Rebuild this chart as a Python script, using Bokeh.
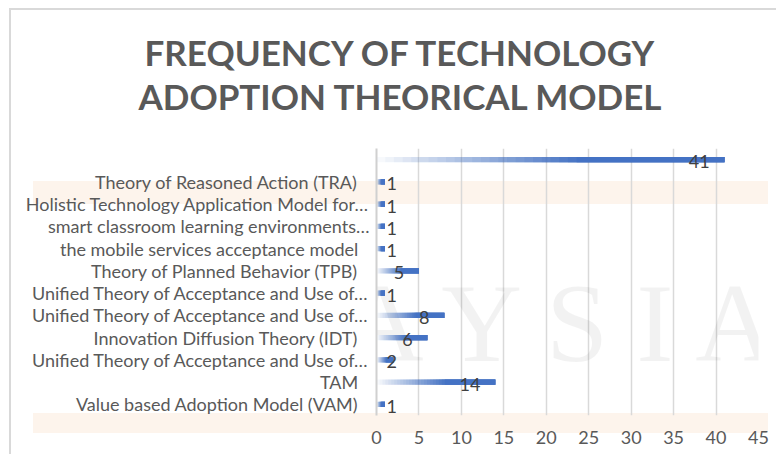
import numpy as np
from bokeh.plotting import figure
from bokeh.models import ColumnDataSource, FixedTicker, Label, Range1d, Title
from bokeh.core.properties import value
from bokeh.embed import file_html
from bokeh.resources import INLINE

# bottom -> top
categories = [
    "Value based Adoption Model (VAM)",
    "TAM",
    "Unified Theory of Acceptance and Use of\u2026",
    "Innovation Diffusion Theory (IDT)",
    "Unified Theory of Acceptance and Use of\u2026",
    "Unified Theory of Acceptance and Use of\u2026",
    "Theory of Planned Behavior (TPB)",
    "the mobile services acceptance model",
    "smart classroom learning environments\u2026",
    "Holistic Technology Application Model for\u2026",
    "Theory of Reasoned Action (TRA)",
    "",
]
values = [1, 14, 2, 6, 8, 1, 5, 1, 1, 1, 1, 41]
x_ticks = [0, 5, 10, 15, 20, 25, 30, 35, 40, 45]
title_lines = ["FREQUENCY OF TECHNOLOGY", "ADOPTION THEORICAL MODEL"]

BLUE = "#4472C4"
GREY = "#595959"
FONT = "Lato"
BAND = "linear-gradient(#fdf4ec,#fdf4ec)"

p = figure(width=767, height=446, output_backend="svg", toolbar_location=None,
           x_range=Range1d(0, 45), y_range=Range1d(-0.5, len(categories) - 0.5),
           min_border_left=365, min_border_right=20, min_border_top=138, min_border_bottom=41)
p.styles = {
    "margin": "8px 0 0 9px",
    "border-top": "2px solid #d9d9d9",
    "border-left": "2px solid #d9d9d9",
    "background": f"{BAND} 22px 171px / 735px 23px no-repeat, {BAND} 22px 403px / 735px 20px no-repeat, #ffffff",
}
p.outline_line_color = None
p.background_fill_color = None
p.border_fill_color = None

# faint watermark (visible part inside the plot area)
p.add_layout(Label(x=19, y=310, x_units="canvas", y_units="canvas", text="M A L A Y S I A",
                   text_font="Liberation Serif", text_font_size="112px", text_color="#000000",
                   text_baseline="alphabetic", text_alpha=0.05, level="underlay"))

# gradient bars: stacked layers whose combined opacity ramps linearly
N, RAMP = 24, 0.6
seg_l, seg_r, seg_y, seg_a = [], [], [], []
for i, v in enumerate(values):
    for j in range(N):
        seg_l.append(RAMP * v * j / N); seg_r.append(v); seg_y.append(i)
        seg_a.append(1.0 / (N - j))
src = ColumnDataSource(dict(left=seg_l, right=seg_r, y=seg_y, a=seg_a))
p.hbar(y="y", left="left", right="right", height=0.24, source=src,
       fill_color=BLUE, fill_alpha="a", line_color=None)

# value labels
ys = list(range(len(values)))
lx = [max(v - 1.75, 2.4) for v in values]
lsrc = ColumnDataSource(dict(x=lx, y=ys, t=[str(v) for v in values]))
p.text(x="x", y="y", text="t", source=lsrc, text_align="right", text_baseline="middle",
       y_offset=2, text_font=value(FONT), text_font_size="18px", text_color="#404040")

# axes
p.xaxis.ticker = FixedTicker(ticks=x_ticks)
p.xaxis.axis_line_color = None
p.xaxis.major_tick_line_color = None
p.xaxis.major_tick_out = 0
p.xaxis.minor_tick_line_color = None
p.xaxis.major_label_text_font = FONT
p.xaxis.major_label_text_font_size = "18px"
p.xaxis.major_label_text_color = GREY
p.xaxis.major_label_standoff = 15

p.yaxis.ticker = FixedTicker(ticks=ys)
p.yaxis.major_label_overrides = {i: (c if c.endswith("\u2026") or c == "" else c + "\u2002\u2009") or " "
                                 for i, c in enumerate(categories)}
p.yaxis.axis_line_color = "#d0d0d0"
p.yaxis.axis_line_width = 2
p.yaxis.major_tick_line_color = None
p.yaxis.major_tick_out = 0
p.yaxis.minor_tick_line_color = None
p.yaxis.major_label_text_font = FONT
p.yaxis.major_label_text_font_size = "18px"
p.yaxis.major_label_text_color = GREY
p.yaxis.major_label_standoff = 7

p.xgrid.grid_line_color = "#d9d9d9"
p.xgrid.grid_line_width = 1.5
p.ygrid.grid_line_color = None

# title (two lines, stacked above the plot area; nearest-to-plot added first)
p.add_layout(Title(text=" ", text_font_size="20px", standoff=8), "above")
for txt, off in zip(reversed(title_lines), [-238, -232]):
    p.add_layout(Title(text=txt, align="left", offset=off, text_font=FONT, text_font_style="bold",
                       text_font_size="35px", text_color=GREY, standoff=0), "above")

open("out.html", "w").write(file_html(p, INLINE))
